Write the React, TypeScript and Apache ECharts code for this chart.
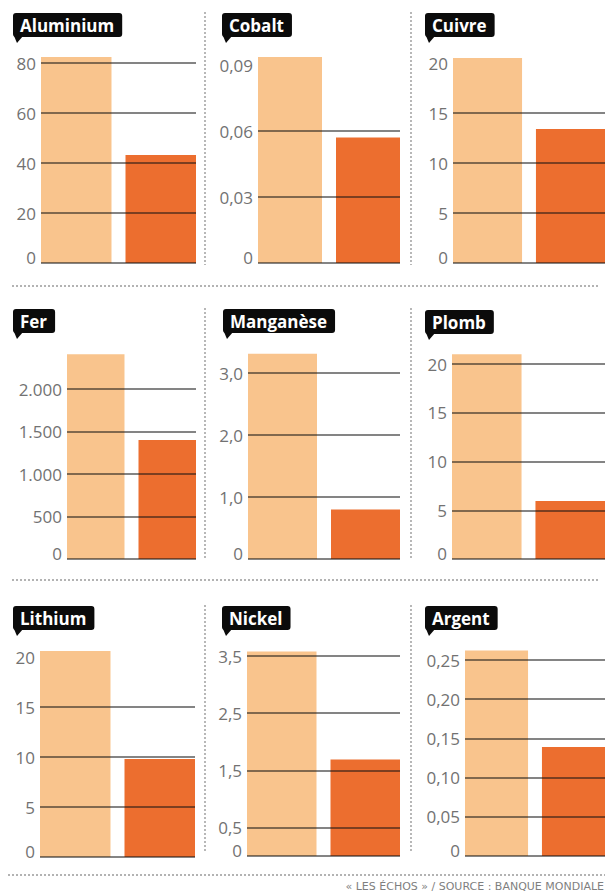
import React, { useEffect, useRef } from "react";
import * as echarts from "echarts";

// ---- Data ----
const metals = ["Aluminium", "Cobalt", "Cuivre", "Fer", "Manganèse", "Plomb", "Lithium", "Nickel", "Argent"];
const lightValues = [82.4, 0.0936, 20.5, 2410, 3.31, 21.0, 20.6, 3.58, 0.262];
const darkValues = [43.2, 0.057, 13.4, 1400, 0.8, 5.95, 9.8, 1.69, 0.139];
const tickValues = [
  [0, 20, 40, 60, 80],
  [0, 0.03, 0.06, 0.09],
  [0, 5, 10, 15, 20],
  [0, 500, 1000, 1500, 2000],
  [0, 1, 2, 3],
  [0, 5, 10, 15, 20],
  [0, 5, 10, 15, 20],
  [0, 0.5, 1.5, 2.5, 3.5],
  [0, 0.05, 0.1, 0.15, 0.2, 0.25],
];
const tickLabels = [
  ["0", "20", "40", "60", "80"],
  ["0", "0,03", "0,06", "0,09"],
  ["0", "5", "10", "15", "20"],
  ["0", "500", "1.000", "1.500", "2.000"],
  ["0", "1,0", "2,0", "3,0"],
  ["0", "5", "10", "15", "20"],
  ["0", "5", "10", "15", "20"],
  ["0", "0,5", "1,5", "2,5", "3,5"],
  ["0", "0,05", "0,10", "0,15", "0,20", "0,25"],
];
const gridLineValues = [
  [0, 20, 40, 60, 80],
  [0, 0.03, 0.06],
  [0, 5, 10, 15],
  [0, 500, 1000, 1500, 2000],
  [0, 1, 2, 3],
  [0, 5, 10, 15, 20],
  [0, 5, 10, 15],
  [0, 0.5, 1.5, 2.5, 3.5],
  [0, 0.05, 0.1, 0.15, 0.2, 0.25],
];
const footerText = "« LES ÉCHOS » / SOURCE : BANQUE MONDIALE";

// ---- Layout (pixels) ----
const layout = [
  { x0: 41, x1: 196, zeroY: 263, topY: 63, tx: 13, ty: 13 },
  { x0: 258, x1: 400, zeroY: 263, topY: 65, tx: 222, ty: 13 },
  { x0: 453, x1: 606, zeroY: 263, topY: 63, tx: 425, ty: 13 },
  { x0: 67, x1: 196, zeroY: 559, topY: 389, tx: 13, ty: 309 },
  { x0: 248, x1: 400, zeroY: 559, topY: 373, tx: 223, ty: 309 },
  { x0: 452, x1: 606, zeroY: 559, topY: 364, tx: 425, ty: 310 },
  { x0: 40, x1: 195, zeroY: 857, topY: 657, tx: 13, ty: 606 },
  { x0: 247, x1: 400, zeroY: 856, topY: 656, tx: 222, ty: 606 },
  { x0: 465, x1: 606, zeroY: 856, topY: 660, tx: 425, ty: 606 },
];

const LIGHT = "#F9C48D";
const DARK = "#EC6E2F";
const LABEL_COLOR = "#727272";
const FONT = "'Open Sans', 'DejaVu Sans', sans-serif";

export default function App() {
  const ref = useRef<HTMLDivElement>(null);
  useEffect(() => {
    document.body.style.margin = "0";
    if (!ref.current) return;
    const chart = echarts.init(ref.current, null, { renderer: "svg" });

    const grid: any[] = [];
    const xAxis: any[] = [];
    const yAxis: any[] = [];
    const series: any[] = [];
    const title: any[] = [];
    const graphic: any[] = [];

    metals.forEach((name, i) => {
      const L = layout[i];
      const ticks = tickValues[i];
      const labels = tickLabels[i];
      const topTick = ticks[ticks.length - 1];
      const yMax = topTick * 1.25;
      const gridTop = L.zeroY - (L.zeroY - L.topY) * (yMax / topTick);
      const W = L.x1 - L.x0;
      const gapPx = 14;
      const barW = (W - gapPx) / 2;
      grid.push({ left: L.x0, top: gridTop, width: W, height: L.zeroY - gridTop, containLabel: false });
      xAxis.push({ type: "category", gridIndex: i, data: [name], show: false, boundaryGap: true });
      yAxis.push({
        type: "value",
        gridIndex: i,
        min: 0,
        max: yMax,
        axisLine: { show: false },
        axisTick: { show: false },
        splitLine: { show: false },
        axisLabel: {
          customValues: ticks,
          margin: 5,
          color: LABEL_COLOR,
          fontSize: 17,
          fontFamily: FONT,
          formatter: (v: number) => {
            let idx = 0;
            let best = Infinity;
            ticks.forEach((t, k) => {
              const d = Math.abs(t - v);
              if (d < best) { best = d; idx = k; }
            });
            const s = labels[idx];
            return ticks[idx] === 0 ? "{z|" + s + "}" : s;
          },
          rich: {
            z: { padding: [0, 0, 12, 0], color: LABEL_COLOR, fontSize: 17, fontFamily: FONT },
          },
        },
      });
      const common = {
        type: "bar",
        xAxisIndex: i,
        yAxisIndex: i,
        barCategoryGap: "0%",
        barGap: ((gapPx / barW) * 100).toFixed(2) + "%",
        silent: true,
      };
      series.push({ ...common, name: name + "-a", data: [lightValues[i]], itemStyle: { color: LIGHT } });
      series.push({
        ...common,
        name: name + "-b",
        data: [darkValues[i]],
        itemStyle: { color: DARK },
        markLine: {
          silent: true,
          symbol: ["none", "none"],
          label: { show: false },
          z: 5,
          lineStyle: { color: "rgba(20,20,20,0.52)", width: 1.8, type: "solid" },
          emphasis: { disabled: true },
          data: gridLineValues[i].map((v) => ({ yAxis: v })),
        },
      });
      title.push({
        text: name,
        left: L.tx,
        top: L.ty,
        backgroundColor: "#0b0b0b",
        borderRadius: 3,
        padding: [3, 8, 3, 7],
        textStyle: { color: "#ffffff", fontSize: 17, fontWeight: "bold", fontFamily: FONT, lineHeight: 18 },
      });
      graphic.push({
        type: "polygon",
        shape: { points: [[L.tx + 1, L.ty + 23], [L.tx + 4, L.ty + 30], [L.tx + 10, L.ty + 23]] },
        style: { fill: "#0b0b0b" },
        silent: true,
      });
    });

    const dotted = { stroke: "#9a9a9a", lineWidth: 1.4, lineDash: [2, 2] };
    [286, 580, 875].forEach((y, k) => {
      graphic.push({ type: "line", shape: { x1: k === 2 ? 8 : 12, y1: y, x2: k === 2 ? 605 : 600, y2: y }, style: dotted, silent: true });
    });
    [205, 411].forEach((x) => {
      [[12, 265], [308, 558], [605, 853]].forEach(([a, b]) => {
        graphic.push({ type: "line", shape: { x1: x, y1: a, x2: x, y2: b }, style: dotted, silent: true });
      });
    });
    graphic.push({
      type: "text",
      x: 604,
      y: 886,
      style: { text: footerText, fill: "#7f7f7f", fontSize: 11, fontFamily: "'DejaVu Sans', sans-serif", align: "right", verticalAlign: "middle" },
      silent: true,
    });

    chart.setOption({ animation: false, backgroundColor: "#ffffff", title, grid, xAxis, yAxis, series, graphic });
    return () => chart.dispose();
  }, []);
  return <div ref={ref} style={{ width: 605, height: 895 }} />;
}
